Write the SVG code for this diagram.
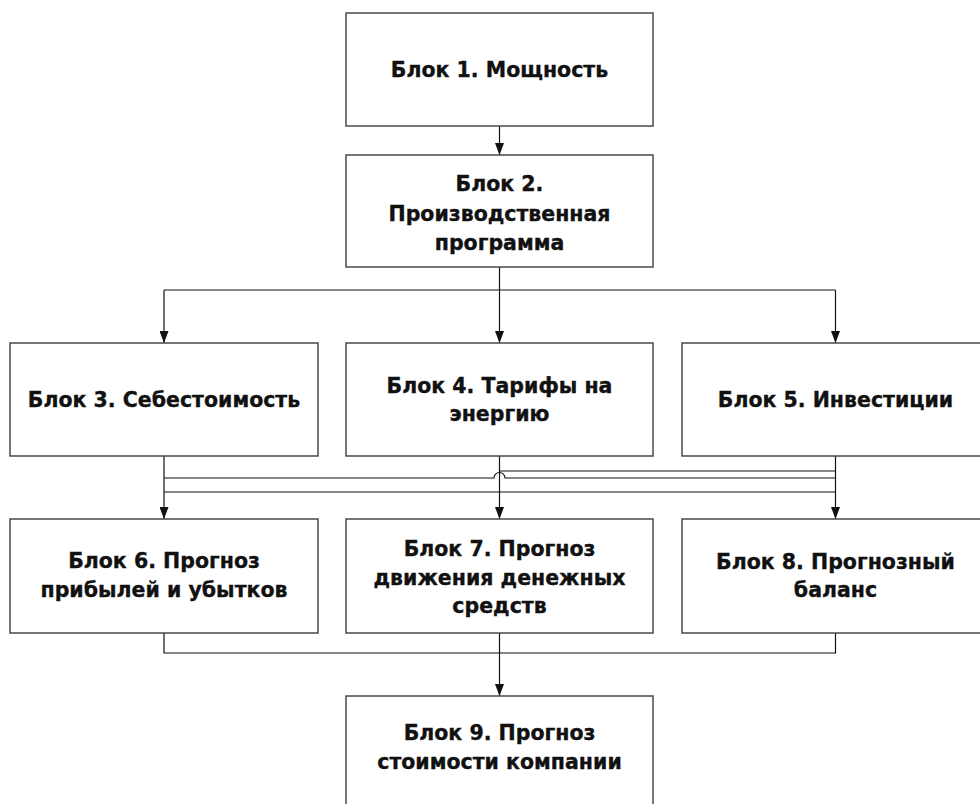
<svg xmlns="http://www.w3.org/2000/svg" width="980" height="804" viewBox="0 0 980 804">
<defs>
<style>
.box{fill:#fff;stroke:#4a4a4a;stroke-width:1.5}
.t{font-family:"DejaVu Sans","Liberation Sans",sans-serif;font-weight:bold;font-size:20.5px;fill:#111;stroke:#111;stroke-width:0.35;text-anchor:middle}
.c{fill:none;stroke:#111;stroke-width:1.2}
</style>
<marker id="ah" viewBox="0 0 12 9" refX="12" refY="4.5" markerWidth="12" markerHeight="9" orient="auto" markerUnits="userSpaceOnUse">
<path d="M0,0 L12,4.5 L0,9 z" fill="#111"/>
</marker>
</defs>
<rect width="980" height="804" fill="#fff"/>
<g id="connectors">
<path class="c" d="M499.5,126 V155" marker-end="url(#ah)"/>
<path class="c" d="M499.5,267 V290 M164,290 H835.5"/>
<path class="c" d="M164,290 V343" marker-end="url(#ah)"/>
<path class="c" d="M499.5,290 V343" marker-end="url(#ah)"/>
<path class="c" d="M835.5,290 V343" marker-end="url(#ah)"/>
<path class="c" d="M164,456 V519" marker-end="url(#ah)"/>
<path class="c" d="M499.5,456 V519" marker-end="url(#ah)"/>
<path class="c" d="M835.5,456 V519" marker-end="url(#ah)"/>
<path class="c" d="M499.5,471 H835.5"/>
<path class="c" d="M164,478 H494 A5.5,5.5 0 0 1 505,478 H835.5"/>
<path class="c" d="M164,492 H835.5"/>
<path class="c" d="M164,633 V653 H835.5 V633"/>
<path class="c" d="M499.5,633 V696" marker-end="url(#ah)"/>
</g>
<g id="node1"><rect class="box" x="346" y="13" width="307" height="113"/><text class="t" x="499.5" y="77">Блок 1. Мощность</text></g>
<g id="node2"><rect class="box" x="346" y="155" width="307" height="112"/><text class="t" x="499.5" y="191">Блок 2.</text><text class="t" x="499.5" y="221">Производственная</text><text class="t" x="499.5" y="250">программа</text></g>
<g id="node3"><rect class="box" x="10" y="343" width="308" height="113"/><text class="t" x="164" y="407">Блок 3. Себестоимость</text></g>
<g id="node4"><rect class="box" x="346" y="343" width="307" height="113"/><text class="t" x="499.5" y="393">Блок 4. Тарифы на</text><text class="t" x="499.5" y="421">энергию</text></g>
<g id="node5"><rect class="box" x="682" y="343" width="310" height="113"/><text class="t" x="835.5" y="407">Блок 5. Инвестиции</text></g>
<g id="node6"><rect class="box" x="10" y="519" width="308" height="114"/><text class="t" x="164" y="568">Блок 6. Прогноз</text><text class="t" x="164" y="597">прибылей и убытков</text></g>
<g id="node7"><rect class="box" x="346" y="519" width="307" height="114"/><text class="t" x="499.5" y="556">Блок 7. Прогноз</text><text class="t" x="499.5" y="585">движения денежных</text><text class="t" x="499.5" y="613">средств</text></g>
<g id="node8"><rect class="box" x="682" y="519" width="310" height="114"/><text class="t" x="835.5" y="569">Блок 8. Прогнозный</text><text class="t" x="835.5" y="597">баланс</text></g>
<g id="node9"><rect class="box" x="346" y="696" width="307" height="120"/><text class="t" x="499.5" y="740">Блок 9. Прогноз</text><text class="t" x="499.5" y="769">стоимости компании</text></g>
</svg>
